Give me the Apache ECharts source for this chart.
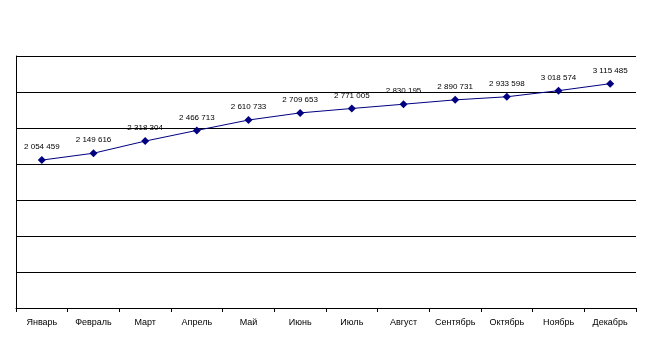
<!DOCTYPE html>
<html>
<head>
<meta charset="utf-8">
<script src="https://cdn.jsdelivr.net/npm/echarts@6/dist/echarts.min.js"></script>
<style>
  html, body { margin: 0; padding: 0; background: #fff; }
  #chart { width: 650px; height: 342px; }
</style>
</head>
<body>
<div id="chart"></div>
<script>
// Monthly totals for the year
const months = ['Январь', 'Февраль', 'Март', 'Апрель', 'Май', 'Июнь',
                'Июль', 'Август', 'Сентябрь', 'Октябрь', 'Ноябрь', 'Декабрь'];
const totals = [2054459, 2149616, 2318304, 2466713, 2610733, 2709653,
                2771005, 2830195, 2890731, 2933598, 3018574, 3115485];

// Value axis range (labels hidden, gridlines only)
const yMin = 0;
const yMax = 3500000;
const yStep = 500000;

// "2 054 459" style thousands grouping
function groupDigits(v) {
  return String(v).replace(/\B(?=(\d{3})+(?!\d))/g, ' ');
}

const chart = echarts.init(document.getElementById('chart'), null, { renderer: 'canvas' });
chart.setOption({
  backgroundColor: '#ffffff',
  animation: false,
  textStyle: { fontFamily: 'Liberation Sans, Arial, sans-serif' },
  grid: { left: 16, right: 14, top: 56, bottom: 34, containLabel: false },
  xAxis: {
    type: 'category',
    data: months,
    boundaryGap: true,
    axisLine: { show: true, lineStyle: { color: '#000', width: 1 } },
    axisTick: { show: true, length: 4, lineStyle: { color: '#000' } },
    axisLabel: { color: '#000', fontSize: 9, margin: 10, interval: 0 },
    splitLine: { show: false }
  },
  yAxis: {
    type: 'value',
    min: yMin,
    max: yMax,
    interval: yStep,
    axisLine: { show: true, lineStyle: { color: '#000', width: 1 } },
    axisTick: { show: false },
    axisLabel: { show: false },
    splitLine: { show: true, lineStyle: { color: '#000', width: 1 } }
  },
  series: [{
    type: 'line',
    data: totals,
    symbol: 'diamond',
    symbolSize: 8,
    lineStyle: { color: '#000080', width: 1 },
    itemStyle: { color: '#000080' },
    label: {
      show: true,
      position: 'top',
      distance: 5,
      color: '#000',
      fontSize: 8,
      formatter: p => groupDigits(p.value)
    }
  }]
});
</script>
</body>
</html>
